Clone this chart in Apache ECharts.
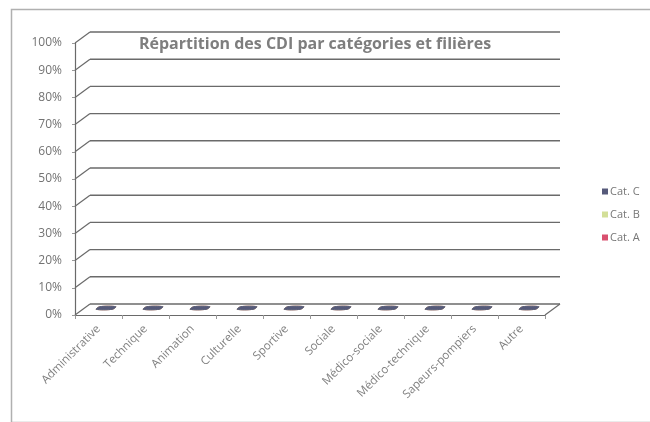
<!DOCTYPE html>
<html>
<head>
<meta charset="utf-8">
<script src="https://cdn.jsdelivr.net/npm/echarts@6/dist/echarts.min.js"></script>
<style>
  html, body { margin: 0; padding: 0; background: #fff; }
  #chart { width: 650px; height: 422px; }
</style>
</head>
<body>
<div id="chart"></div>
<script>
// données du graphique
const categories = ['Administrative', 'Technique', 'Animation', 'Culturelle', 'Sportive',
  'Sociale', 'Médico-sociale', 'Médico-technique', 'Sapeurs-pompiers', 'Autre'];
const catA = [0, 0, 0, 0, 0, 0, 0, 0, 0, 0];
const catB = [0, 0, 0, 0, 0, 0, 0, 0, 0, 0];
const catC = [0, 0, 0, 0, 0, 0, 0, 0, 0, 0];
const yTicks = [0, 10, 20, 30, 40, 50, 60, 70, 80, 90, 100];

// décalage de la profondeur (effet 3D)
const DX = 15, DY = 11;
const GRID_COLOR = '#6a6a6a';

// empilement
const baseB = catA.map((v, i) => v);
const baseC = catA.map((v, i) => v + catB[i]);

function bar3d(color, thick) {
    return function (params, api) {
        const idx = api.value(0);
        const bottom = api.coord([idx, api.value(1)]);
        const top = api.coord([idx, api.value(1) + api.value(2)]);
        const bw = api.size([1, 0])[0] * 0.34;
        const f0 = 0.38, f1 = 0.62;
        const x0 = bottom[0] - bw / 2, x1 = bottom[0] + bw / 2;
        const yt = Math.min(top[1], bottom[1] - thick);
        const children = [];
        if (bottom[1] - top[1] > 0.5) {
            children.push({
                type: 'rect',
                shape: {x: x0 + f0 * DX, y: top[1] - f0 * DY, width: bw, height: bottom[1] - top[1]},
                style: {fill: color}
            });
        }
        // face supérieure
        children.push({
            type: 'polygon',
            shape: {
                points: [
                    [x0 + f0 * DX, yt - f0 * DY],
                    [x1 + f0 * DX, yt - f0 * DY],
                    [x1 + f1 * DX, yt - f1 * DY],
                    [x0 + f1 * DX, yt - f1 * DY]
                ],
                smooth: 0.3
            },
            style: {fill: color, stroke: color, lineWidth: 1}
        });
        return {type: 'group', children: children};
    };
}

// lignes de quadrillage en perspective
function renderGrid(params, api) {
    const cs = params.coordSys;
    const y = api.coord([0, api.value(1)])[1];
    const x = cs.x;
    const children = [
        {type: 'line', shape: {x1: x, y1: y, x2: x + DX, y2: y - DY},
            style: {stroke: GRID_COLOR, lineWidth: 1.2}},
        {type: 'line', shape: {x1: x + DX, y1: y - DY, x2: x + cs.width + DX, y2: y - DY},
            style: {stroke: GRID_COLOR, lineWidth: 1.4}}
    ];
    if (api.value(1) === 0) {
        children.push({type: 'line', shape: {x1: x + cs.width, y1: y, x2: x + cs.width + DX, y2: y - DY},
            style: {stroke: GRID_COLOR, lineWidth: 1.2}});
    }
    return {type: 'group', children: children};
}

const colors = {A: '#d9506f', B: '#d3df98', C: '#565a7a'};

const chart = echarts.init(document.getElementById('chart'));
chart.setOption({
    animation: false,
    backgroundColor: '#fff',
    graphic: [{
        type: 'rect',
        left: 9, top: 7,
        shape: {width: 660, height: 413},
        style: {fill: 'none', stroke: '#b0b0b0', lineWidth: 1.5}
    }],
    title: {
        text: 'Répartition des CDI par catégories et filières',
        left: 310, top: 31, textAlign: 'center',
        textStyle: {fontFamily: 'Open Sans', fontSize: 16, fontWeight: 'bold', color: '#7e7e7e'}
    },
    legend: {
        data: ['Cat. C', 'Cat. B', 'Cat. A'],
        orient: 'vertical',
        left: 597, top: 181,
        itemWidth: 6, itemHeight: 6, itemGap: 12,
        icon: 'rect',
        textStyle: {fontFamily: 'Open Sans', fontSize: 11, color: '#777', padding: [0, 0, 0, -3]}
    },
    grid: {left: 75, right: 105, top: 43, bottom: 107},
    xAxis: {
        type: 'category',
        data: categories,
        axisLine: {show: true, lineStyle: {color: GRID_COLOR, width: 1.2}},
        axisTick: {show: true, length: 4, lineStyle: {color: '#999'}},
        axisLabel: {rotate: 45, margin: 12, fontFamily: 'Open Sans', fontSize: 11.5, color: '#808080', interval: 0}
    },
    yAxis: {
        type: 'value',
        min: 0, max: 100, interval: 10,
        axisLine: {show: true, lineStyle: {color: GRID_COLOR, width: 1.2}},
        axisTick: {show: true, length: 3, lineStyle: {color: '#999'}},
        splitLine: {show: false},
        axisLabel: {formatter: '{value}%', margin: 13, fontFamily: 'Open Sans', fontSize: 12, color: '#737373'}
    },
    series: [
        {
            type: 'custom', name: 'grille', silent: true,
            renderItem: renderGrid,
            data: yTicks.map(v => [0, v]),
            z: 1
        },
        {
            type: 'custom', name: 'Cat. A', itemStyle: {color: colors.A},
            renderItem: bar3d(colors.A, 1.5),
            data: catA.map((v, i) => [i, 0, v]), z: 3
        },
        {
            type: 'custom', name: 'Cat. B', itemStyle: {color: colors.B},
            renderItem: bar3d(colors.B, 1.5),
            data: catB.map((v, i) => [i, baseB[i], v]), z: 4
        },
        {
            type: 'custom', name: 'Cat. C', itemStyle: {color: colors.C},
            renderItem: bar3d(colors.C, 1.5),
            data: catC.map((v, i) => [i, baseC[i], v]), z: 5
        }
    ]
});
</script>
</body>
</html>
